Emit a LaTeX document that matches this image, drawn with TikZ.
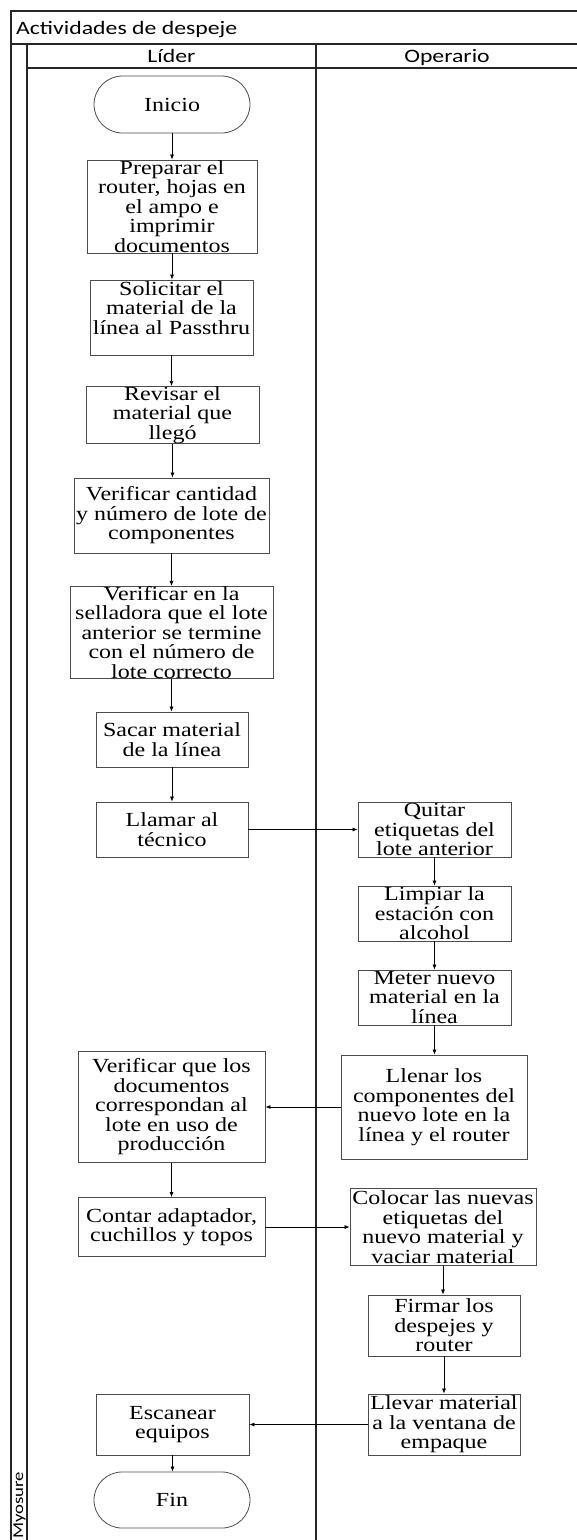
\documentclass[tikz,border=0pt]{standalone}
\usepackage{fontspec}
\usetikzlibrary{arrows.meta,shapes.misc}
\newfontfamily\boxfont{Liberation Serif}[FakeStretch=1.2]
\newfontfamily\lanefont{Carlito}[FakeStretch=1.25]

\begin{document}
\begin{tikzpicture}[x=1pt,y=-1pt,
  lane/.style={line width=1.1pt, draw=black!85},
  stepbox/.style={draw=black!70, line width=0.8pt, rectangle, align=center,
    inner sep=0pt, font=\boxfont\fontsize{20}{19.5}\selectfont},
  term/.style={stepbox, rounded rectangle},
  flow/.style={draw=black, line width=0.7pt, -{Latex[length=5pt,width=4pt]}},
  lanetext/.style={font=\lanefont\fontsize{19}{20}\selectfont, inner sep=0pt}]

\useasboundingbox (0,0) rectangle (577,1540);
\clip (0,0) rectangle (577,1540);

% swimlane frame
\draw[lane] (11,1545) -- (11,11) -- (578,11) -- (578,1545);
\draw[lane] (11,44) -- (578,44);
\draw[lane] (27,44) -- (27,1545);
\draw[lane] (27,68) -- (578,68);
\draw[lane] (316,44) -- (316,1545);

\node[lanetext, anchor=base west] (title) at (16,34) {Actividades de despeje};
\node[lanetext, anchor=base] (lider) at (171.5,62) {Líder};
\node[lanetext, anchor=base] (operario) at (447,62) {Operario};
\node[font=\lanefont\fontsize{15}{16}\selectfont, inner sep=0pt, rotate=90, anchor=west] (pool) at (19.5,1539) {Myosure};

% Líder lane
\node[term, minimum width=156, minimum height=57] (ini) at (172,104.5) {Inicio};
\node[stepbox, minimum width=170, minimum height=93] (prep) at (172,206.5)
  {Preparar el\\router, hojas en\\el ampo e\\imprimir\\documentos};
\node[stepbox, minimum width=163, minimum height=75] (sol) at (171.5,317.5)
  {Solicitar el\\material de la\\línea al Passthru\\~};
\node[stepbox, minimum width=173, minimum height=54] (rev) at (172.5,415)
  {Revisar el\\material que\\llegó};
\node[stepbox, minimum width=195, minimum height=75] (vcant) at (171.5,515.5)
  {Verificar cantidad\\y número de lote de\\componentes};
\node[stepbox, minimum width=203, minimum height=91] (vsell) at (171.5,632.5)
  {Verificar en la\\selladora que el lote\\anterior se termine\\con el número de\\lote correcto};
\node[stepbox, minimum width=152, minimum height=55] (sacar) at (172,739.5)
  {Sacar material\\de la línea};
\node[stepbox, minimum width=152, minimum height=55] (llamar) at (172,829.5)
  {Llamar al\\técnico};
\node[stepbox, minimum width=187, minimum height=111] (vque) at (171.5,1107)
  {Verificar que los\\documentos\\correspondan al\\lote en uso de\\producción};
\node[stepbox, minimum width=187, minimum height=59] (contar) at (171.5,1227)
  {Contar adaptador,\\cuchillos y topos};
\node[stepbox, minimum width=153, minimum height=61] (escanear) at (172.5,1424.5)
  {Escanear\\equipos};
\node[term, minimum width=156, minimum height=56] (fin) at (172,1500) {Fin};

% Operario lane
\node[stepbox, minimum width=153, minimum height=55] (quitar) at (434.5,829.5)
  {Quitar\\etiquetas del\\lote anterior};
\node[stepbox, minimum width=153, minimum height=55] (limpiar) at (434.5,913.5)
  {Limpiar la\\estación con\\alcohol};
\node[stepbox, minimum width=153, minimum height=55] (meter) at (434.5,997.5)
  {Meter nuevo\\material en la\\línea};
\node[stepbox, minimum width=186, minimum height=104] (llenar) at (434,1107)
  {Llenar los\\componentes del\\nuevo lote en la\\línea y el router};
\node[stepbox, minimum width=186, minimum height=77] (colocar) at (443,1227)
  {Colocar las nuevas\\etiquetas del\\nuevo material y\\vaciar material};
\node[stepbox, minimum width=152, minimum height=61] (firmar) at (444,1325.5)
  {Firmar los\\despejes y\\router};
\node[stepbox, minimum width=152, minimum height=61] (llevar) at (444,1424.5)
  {Llevar material\\a la ventana de\\empaque};

% connectors
\draw[flow] (ini.south) -- (ini.south |- prep.north);
\draw[flow] (prep.south) -- (prep.south |- sol.north);
\draw[flow] (sol.south) -- (sol.south |- rev.north);
\draw[flow] (rev.south) -- (rev.south |- vcant.north);
\draw[flow] (vcant.south) -- (vcant.south |- vsell.north);
\draw[flow] (vsell.south) -- (vsell.south |- sacar.north);
\draw[flow] (sacar.south) -- (sacar.south |- llamar.north);
\draw[flow] (llamar.east) -- (llamar.east -| quitar.west);
\draw[flow] (quitar.south) -- (quitar.south |- limpiar.north);
\draw[flow] (limpiar.south) -- (limpiar.south |- meter.north);
\draw[flow] (meter.south) -- (meter.south |- llenar.north);
\draw[flow] (llenar.west) -- (llenar.west -| vque.east);
\draw[flow] (vque.south) -- (vque.south |- contar.north);
\draw[flow] (contar.east) -- (contar.east -| colocar.west);
\draw[flow] (colocar.south) -- (colocar.south |- firmar.north);
\draw[flow] (firmar.south) -- (firmar.south |- llevar.north);
\draw[flow] (llevar.west) -- (llevar.west -| escanear.east);
\draw[flow] (escanear.south) -- (escanear.south |- fin.north);
\end{tikzpicture}
\end{document}
